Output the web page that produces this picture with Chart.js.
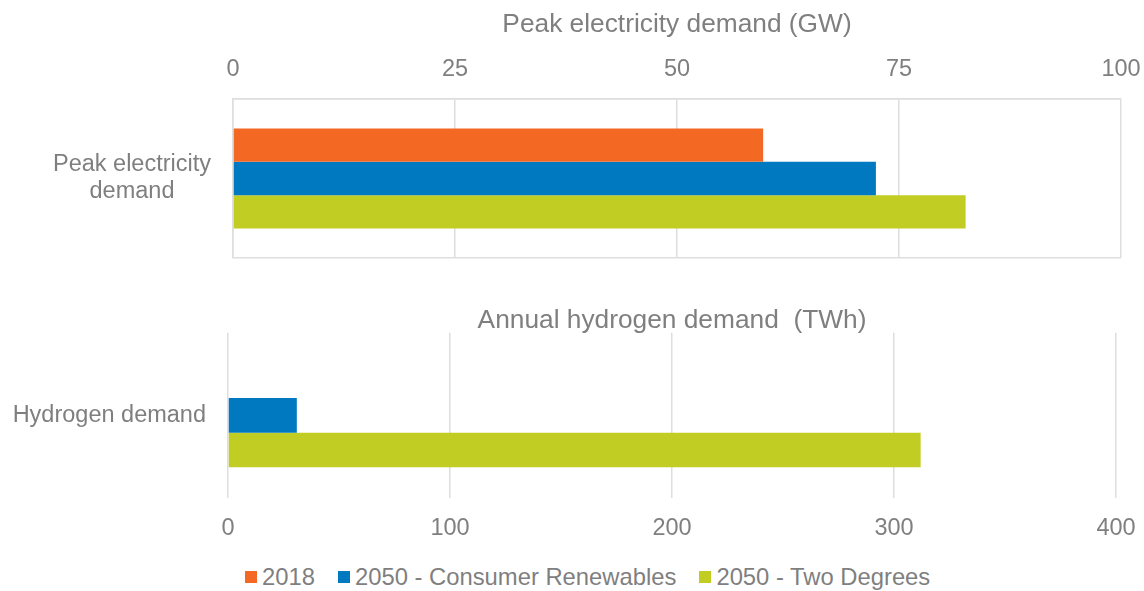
<!DOCTYPE html>
<html>
<head>
<meta charset="utf-8">
<script src="https://cdn.jsdelivr.net/npm/chart.js@4.4.1/dist/chart.umd.min.js"></script>
<style>
  body { margin: 0; background: #fff; }
  #wrap { position: relative; width: 1144px; height: 591px; overflow: hidden; font-family: "Liberation Sans", Arial, sans-serif; }
  #peakChart { position: absolute; left: 0; top: 0; }
  #h2Chart { position: absolute; left: 0; top: 290px; }
  #legend { position: absolute; left: 245px; top: 563px; display: flex; align-items: center; font-size: 23.8px; line-height: 28px; color: #7f7f7f; white-space: nowrap; }
  #legend .item { display: flex; align-items: center; margin-right: 23px; }
  #legend .box { width: 12px; height: 12px; margin-right: 5px; }
</style>
</head>
<body>
<div id="wrap">
  <canvas id="peakChart" width="1144" height="272"></canvas>
  <canvas id="h2Chart" width="1144" height="248"></canvas>
  <div id="legend"></div>
</div>
<script>
// series
var seriesNames = ['2018', '2050 - Consumer Renewables', '2050 - Two Degrees'];
var seriesColors = ['#f36823', '#0079c1', '#c2cd23'];

// peak electricity demand (GW)
var peakCategories = [['Peak electricity', 'demand']];
var peak2018 = [59.7];
var peakConsumer = [72.4];
var peakTwoDeg = [82.5];
var peakTicks = [0, 25, 50, 75, 100];

// annual hydrogen demand (TWh)
var h2Categories = ['Hydrogen demand'];
var h22018 = [null];
var h2Consumer = [31];
var h2TwoDeg = [312];
var h2Ticks = [0, 100, 200, 300, 400];

var textGray = '#7f7f7f';
var gridGray = '#dedede';
var fontFamily = '"Liberation Sans", Arial, sans-serif';

function makeDatasets(values) {
    return values.map(function(v, i) {
        return {
            label: seriesNames[i],
            data: v,
            backgroundColor: seriesColors[i],
            borderWidth: 0,
            categoryPercentage: 0.628,
            barPercentage: 1
        };
    });
}

function fixedTicks(list) {
    return function(scale) {
        scale.ticks = list.map(function(v) { return { value: v }; });
    };
}

// pin an axis box size and drop the extra label padding chart.js adds
function pinSize(key, size) {
    return function(scale) {
        scale[key] = size;
        scale.paddingLeft = 0;
        scale.paddingRight = 0;
        scale.paddingTop = 0;
        scale.paddingBottom = 0;
    };
}

new Chart(document.getElementById('peakChart'), {
    type: 'bar',
    data: {
        labels: peakCategories,
        datasets: makeDatasets([peak2018, peakConsumer, peakTwoDeg])
    },
    options: {
        indexAxis: 'y',
        responsive: false,
        animation: false,
        layout: { padding: { top: 0, right: 23, bottom: 14, left: 0 } },
        plugins: { legend: { display: false }, tooltip: { enabled: false } },
        scales: {
            x: {
                position: 'top',
                min: 0,
                max: 100,
                afterBuildTicks: fixedTicks(peakTicks),
                afterFit: pinSize('height', 99),
                grid: { color: gridGray, lineWidth: 1.5, drawTicks: false },
                border: { color: gridGray, width: 1.5 },
                ticks: { color: textGray, padding: 15, font: { family: fontFamily, size: 23.5 } },
                title: {
                    display: true,
                    text: 'Peak electricity demand (GW)',
                    color: textGray,
                    padding: { top: 9, bottom: 0 },
                    font: { family: fontFamily, size: 26.3 }
                }
            },
            y: {
                afterFit: pinSize('width', 233),
                grid: { color: gridGray, lineWidth: 1.5, drawTicks: false, offset: true },
                border: { color: gridGray, width: 1.5 },
                ticks: { color: textGray, padding: 22, crossAlign: 'center', font: { family: fontFamily, size: 23.5, lineHeight: 1.15 } }
            }
        }
    }
});

new Chart(document.getElementById('h2Chart'), {
    type: 'bar',
    data: {
        labels: h2Categories,
        datasets: makeDatasets([h22018, h2Consumer, h2TwoDeg])
    },
    options: {
        indexAxis: 'y',
        responsive: false,
        animation: false,
        layout: { padding: { top: 0, right: 28, bottom: 0, left: 0 } },
        plugins: {
            legend: { display: false },
            tooltip: { enabled: false },
            title: {
                display: true,
                fullSize: false,
                text: 'Annual hydrogen demand  (TWh)',
                color: textGray,
                padding: { top: 19, bottom: 0 },
                font: { family: fontFamily, size: 26.3, weight: 'normal', lineHeight: 0.9 }
            }
        },
        scales: {
            x: {
                position: 'bottom',
                min: 0,
                max: 400,
                afterBuildTicks: fixedTicks(h2Ticks),
                afterFit: pinSize('height', 40),
                grid: { color: gridGray, lineWidth: 1.5, drawTicks: false },
                border: { display: false },
                ticks: { color: textGray, padding: 16, font: { family: fontFamily, size: 23.5 } }
            },
            y: {
                afterFit: pinSize('width', 228),
                grid: { display: false, drawTicks: false },
                border: { display: false },
                ticks: { color: textGray, padding: 22, font: { family: fontFamily, size: 23.5 } }
            }
        }
    }
});

// legend
var legend = document.getElementById('legend');
seriesNames.forEach(function(name, i) {
    var item = document.createElement('div');
    item.className = 'item';
    var box = document.createElement('span');
    box.className = 'box';
    box.style.background = seriesColors[i];
    var txt = document.createElement('span');
    txt.textContent = name;
    item.appendChild(box);
    item.appendChild(txt);
    legend.appendChild(item);
});
</script>
</body>
</html>
